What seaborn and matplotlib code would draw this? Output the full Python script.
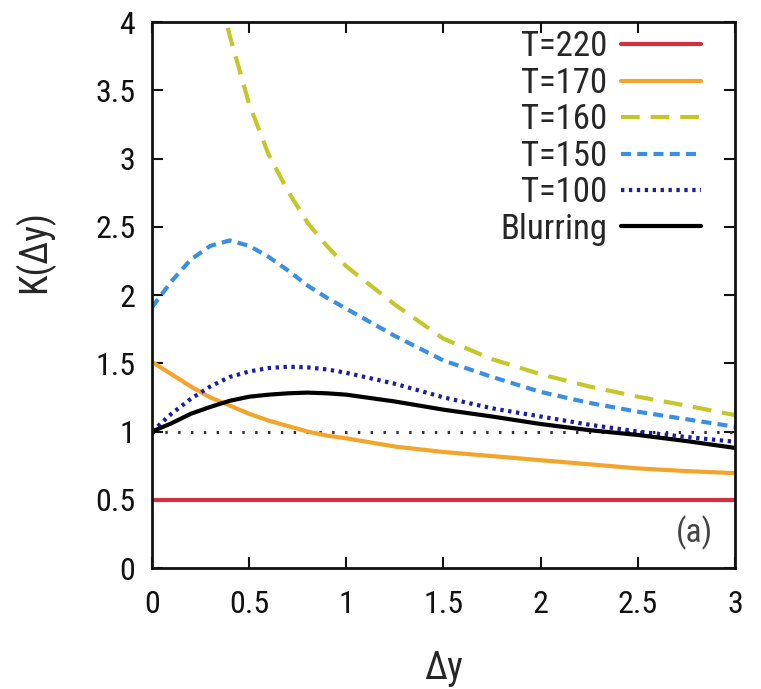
import matplotlib
matplotlib.use("Agg")
import matplotlib.pyplot as plt
from matplotlib import font_manager
import pandas as pd
import seaborn as sns

# Sampled curves K(Δy)
dy = [0.0, 0.1, 0.2, 0.3, 0.4, 0.5, 0.6, 0.7, 0.8, 0.9, 1.0,
      1.25, 1.5, 1.75, 2.0, 2.25, 2.5, 2.75, 3.0]

k_t220 = [0.5] * len(dy)
k_t170 = [1.51, 1.42, 1.33, 1.25, 1.19, 1.13, 1.08, 1.04, 1.00, 0.97, 0.95,
          0.89, 0.85, 0.82, 0.79, 0.76, 0.73, 0.71, 0.695]
dy_t160 = [0.3, 0.4, 0.5, 0.6, 0.7, 0.8, 0.9, 1.0,
           1.25, 1.5, 1.75, 2.0, 2.25, 2.5, 2.75, 3.0]
k_t160 = [4.5, 3.9, 3.4, 3.03, 2.76, 2.53, 2.36, 2.21,
          1.93, 1.68, 1.53, 1.42, 1.33, 1.255, 1.19, 1.12]
k_t150 = [1.91, 2.10, 2.26, 2.36, 2.40, 2.36, 2.28, 2.18, 2.07, 1.98, 1.90,
          1.70, 1.52, 1.40, 1.29, 1.21, 1.145, 1.09, 1.035]
k_t100 = [1.0, 1.13, 1.24, 1.33, 1.40, 1.44, 1.465, 1.475, 1.47, 1.455, 1.43,
          1.35, 1.25, 1.17, 1.11, 1.05, 1.0, 0.96, 0.925]
k_blur = [1.0, 1.06, 1.13, 1.18, 1.225, 1.255, 1.27, 1.28, 1.285, 1.28, 1.27,
          1.22, 1.16, 1.11, 1.055, 1.01, 0.975, 0.93, 0.88]

labels = ["T=220", "T=170", "T=160", "T=150", "T=100", "Blurring"]
colors = ["#d2303f", "#f2a52a", "#c4c62a", "#3a8fe0", "#1c1c9c", "#000000"]
dashes = [None, None, (4.5, 2.6), (2.4, 1.5), (0.8, 1.1), None]

sns.set_style("ticks")

# prefer a narrow sans face; otherwise shrink the regular one
ttf = font_manager.fontManager.ttflist
names = {f.name for f in ttf}
stretch = "normal"
if "Liberation Sans Narrow" in names:
    fam, scale = ["Liberation Sans Narrow", "DejaVu Sans"], 1.0
elif "Roboto Condensed" in names:
    fam, scale = ["Roboto Condensed", "DejaVu Sans"], 1.0
elif any(f.name == "Roboto" and str(f.stretch) in ("condensed", "75", "semi-condensed", "87") for f in ttf):
    fam, scale, stretch = ["Roboto", "DejaVu Sans"], 1.0, "condensed"
else:
    fam, scale = ["Liberation Sans", "DejaVu Sans"], 0.86
plt.rcParams["font.family"] = fam
plt.rcParams["font.stretch"] = stretch
plt.rcParams["axes.unicode_minus"] = False

tick_fs = 23 * scale
leg_fs = 25 * scale
lab_fs = 27 * scale

fig = plt.figure(figsize=(7.61, 6.89), dpi=100)
ax = fig.add_axes([0.1997, 0.1756, 0.7661, 0.7924])

series = [(dy, k_t220), (dy, k_t170), (dy_t160, k_t160),
          (dy, k_t150), (dy, k_t100), (dy, k_blur)]
for (xs, ys), lab, col, ds in zip(series, labels, colors, dashes):
    df = pd.DataFrame({"dy": xs, "K": ys})
    sns.lineplot(data=df, x="dy", y="K", ax=ax, color=col, lw=3.0,
                 label=lab, sort=True, estimator=None)
    if ds is not None:
        ax.lines[-1].set_dashes(ds)

# reference level K = 1
ax.axhline(1.0, color="#333333", lw=2.2, ls=(0, (0.8, 3.4)), zorder=1)

ax.set_xlim(0, 3)
ax.set_ylim(0, 4)
ax.set_xticks([0, 0.5, 1, 1.5, 2, 2.5, 3])
ax.set_xticklabels(["0", "0.5", "1", "1.5", "2", "2.5", "3"])
ax.set_yticks([0, 0.5, 1, 1.5, 2, 2.5, 3, 3.5, 4])
ax.set_yticklabels(["0", "0.5", "1", "1.5", "2", "2.5", "3", "3.5", "4"])
ax.tick_params(direction="in", length=8, width=1.5, top=True, right=True,
               labelsize=tick_fs, pad=12, colors="#111111")
ax.tick_params(axis="x", pad=16)
for s in ax.spines.values():
    s.set_visible(True)
    s.set_linewidth(2.0)
    s.set_color("#111111")

ax.set_xlabel("Δy", fontsize=lab_fs, labelpad=22)
ax.set_ylabel("K(Δy)", fontsize=lab_fs)
ax.yaxis.set_label_coords(-0.168, 0.579)

ax.text(2.887, 0.256, "(a)", fontsize=24 * scale, color="#444444",
        ha="right", va="center")

leg = ax.legend(loc="upper right", frameon=False, markerfirst=False,
                fontsize=leg_fs, handlelength=2.3, handletextpad=0.4,
                labelspacing=0.1, borderaxespad=0.0, borderpad=0.0,
                bbox_to_anchor=(0.942, 0.985))

fig.savefig("out.png", dpi=100)
